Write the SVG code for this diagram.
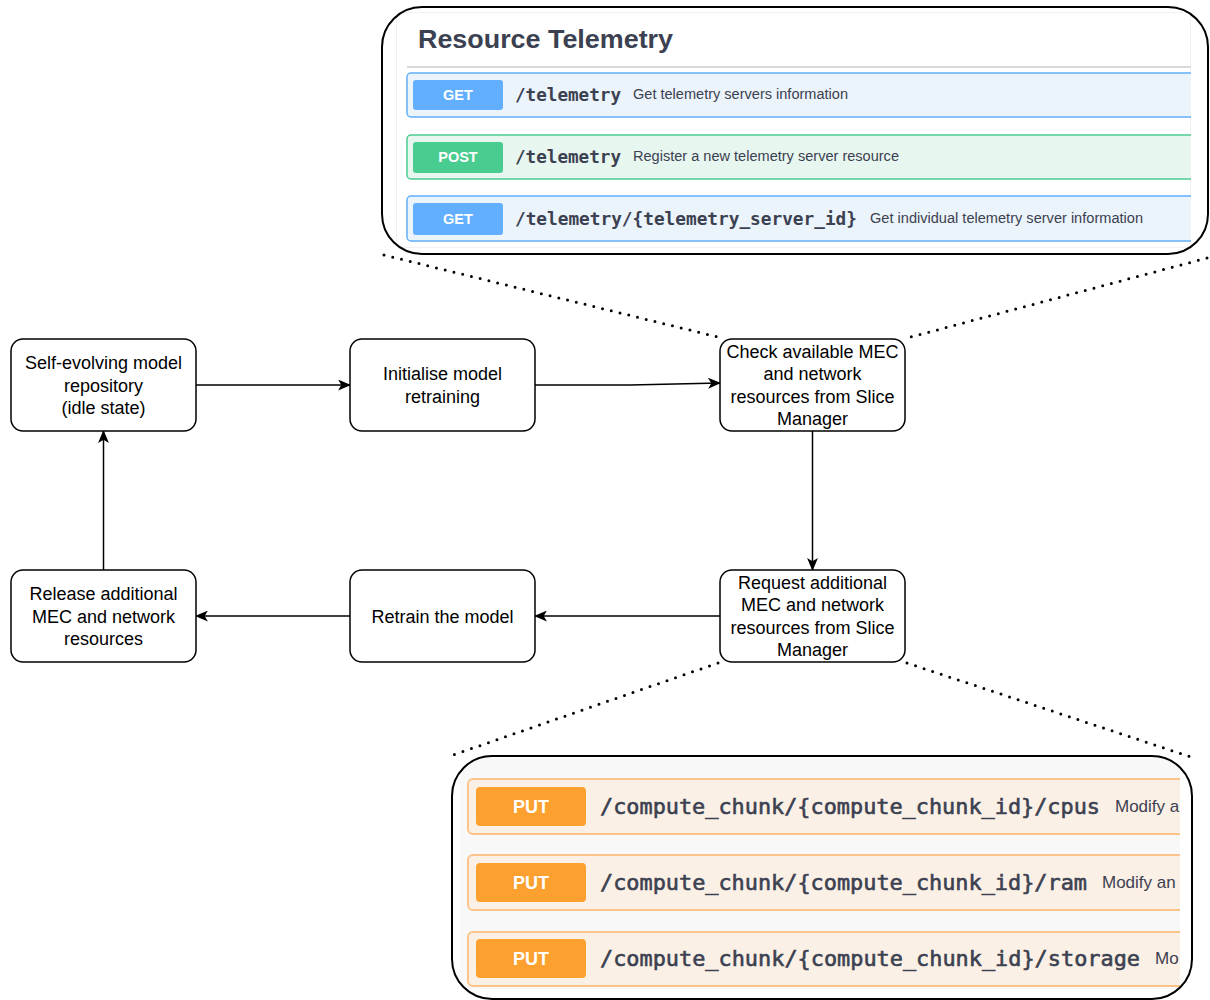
<svg xmlns="http://www.w3.org/2000/svg" width="1210" height="1000" viewBox="0 0 1210 1000">
<style>
.node rect{fill:#fff;stroke:#000;stroke-width:1.5}
.node text{font-family:"Liberation Sans",Arial,sans-serif;font-size:18px;fill:#000;text-anchor:middle}
.edge{fill:none;stroke:#000;stroke-width:1.5}
.dot{fill:none;stroke:#000;stroke-width:3;stroke-linecap:round;stroke-dasharray:0 9}
.panel{fill:none;stroke:#000;stroke-width:2}
.mth{font-family:"Liberation Sans",Arial,sans-serif;font-weight:bold;fill:#fff;text-anchor:middle}
.path{font-family:"DejaVu Sans Mono",monospace;font-weight:bold;fill:#3b4151}
.path2{font-family:"DejaVu Sans Mono",monospace;fill:#3b4151;stroke:#3b4151;stroke-width:0.6}
.desc{font-family:"Liberation Sans",Arial,sans-serif;fill:#3b4151}
</style>
<defs>
<marker id="arr" viewBox="0 0 12 10" refX="11" refY="5" markerWidth="13" markerHeight="11" markerUnits="userSpaceOnUse" orient="auto">
<path d="M0,0 L12,5 L0,10 L3,5 z" fill="#000"/>
</marker>
<clipPath id="ctopr"><rect x="382" y="7" width="826" height="247" rx="40"/></clipPath>
<clipPath id="ctop"><rect x="396" y="12" width="795" height="236"/></clipPath>
<clipPath id="cbotr"><rect x="452" y="756" width="740" height="243" rx="40"/></clipPath>
<clipPath id="cbot"><rect x="460" y="758" width="720" height="231"/></clipPath>
</defs>

<g id="telemetry-panel">
<rect x="382" y="7" width="826" height="247" rx="40" fill="#fff"/>
<g clip-path="url(#ctopr)">
<g clip-path="url(#ctop)">
<rect x="396" y="12" width="795" height="236" fill="#fff" stroke="#e4e4e4"/>
<text x="418" y="48" font-family="Liberation Sans,Arial,sans-serif" font-weight="bold" font-size="26" fill="#3b4151" textLength="255" lengthAdjust="spacingAndGlyphs">Resource Telemetry</text>
<line x1="407" y1="67" x2="1191" y2="67" stroke="#d9d9d9" stroke-width="2"/>
<rect x="407" y="73" width="800" height="44" rx="4" fill="#ebf3fb" stroke="#61affe" stroke-width="1.5"/>
<rect x="413" y="80" width="90" height="30" rx="3" fill="#61affe"/>
<text class="mth" x="458" y="100" font-size="14.5">GET</text>
<text class="path" x="515" y="101" font-size="17.7" textLength="106" lengthAdjust="spacingAndGlyphs">/telemetry</text>
<text class="desc" x="633" y="99" font-size="14" textLength="215" lengthAdjust="spacingAndGlyphs">Get telemetry servers information</text>
<rect x="407" y="135" width="800" height="44" rx="4" fill="#e8f6f0" stroke="#49cc90" stroke-width="1.5"/>
<rect x="413" y="142" width="90" height="31" rx="3" fill="#49cc90"/>
<text class="mth" x="458" y="162" font-size="14.5">POST</text>
<text class="path" x="515" y="163" font-size="17.7" textLength="106" lengthAdjust="spacingAndGlyphs">/telemetry</text>
<text class="desc" x="633" y="161" font-size="14" textLength="266" lengthAdjust="spacingAndGlyphs">Register a new telemetry server resource</text>
<rect x="407" y="196" width="800" height="45" rx="4" fill="#ebf3fb" stroke="#61affe" stroke-width="1.5"/>
<rect x="413" y="203" width="90" height="32" rx="3" fill="#61affe"/>
<text class="mth" x="458" y="224" font-size="14.5">GET</text>
<text class="path" x="515" y="225" font-size="17.7" textLength="342" lengthAdjust="spacingAndGlyphs">/telemetry/{telemetry_server_id}</text>
<text class="desc" x="870" y="223" font-size="14" textLength="273" lengthAdjust="spacingAndGlyphs">Get individual telemetry server information</text>
</g>
</g>
<rect class="panel" x="382" y="7" width="826" height="247" rx="40"/>
</g>

<g id="compute-panel">
<rect x="452" y="756" width="740" height="243" rx="40" fill="#fff"/>
<g clip-path="url(#cbotr)">
<g clip-path="url(#cbot)">
<rect x="460" y="758" width="720" height="231" fill="#f8f8f8"/>
<rect x="468" y="779" width="730" height="55" rx="5" fill="#fbf0e5" stroke="#fcc48a" stroke-width="2"/>
<rect x="476" y="787" width="110" height="39" rx="4" fill="#fca130"/>
<text class="mth" x="531" y="813" font-size="18" font-weight="normal">PUT</text>
<text class="path2" x="600" y="814" font-size="22" textLength="500" lengthAdjust="spacingAndGlyphs">/compute_chunk/{compute_chunk_id}/cpus</text>
<text class="desc" x="1115" y="812" font-size="17">Modify a</text>
<rect x="468" y="855" width="730" height="55" rx="5" fill="#fbf0e5" stroke="#fcc48a" stroke-width="2"/>
<rect x="476" y="863" width="110" height="39" rx="4" fill="#fca130"/>
<text class="mth" x="531" y="889" font-size="18" font-weight="normal">PUT</text>
<text class="path2" x="600" y="890" font-size="22" textLength="487" lengthAdjust="spacingAndGlyphs">/compute_chunk/{compute_chunk_id}/ram</text>
<text class="desc" x="1102" y="888" font-size="17">Modify an</text>
<rect x="468" y="932" width="730" height="54" rx="5" fill="#fbf0e5" stroke="#fcc48a" stroke-width="2"/>
<rect x="476" y="939" width="110" height="39" rx="4" fill="#fca130"/>
<text class="mth" x="531" y="965" font-size="18" font-weight="normal">PUT</text>
<text class="path2" x="600" y="966" font-size="22" textLength="540" lengthAdjust="spacingAndGlyphs">/compute_chunk/{compute_chunk_id}/storage</text>
<text class="desc" x="1155" y="964" font-size="17">Mo</text>
</g>
</g>
<rect class="panel" x="452" y="756" width="740" height="243" rx="40"/>
</g>

<g id="connectors">
<path class="dot" d="M384,255 L718,337"/>
<path class="dot" d="M1207,258 L907,338"/>
<path class="dot" d="M718,663 L453,755"/>
<path class="dot" d="M907,663 L1191,757"/>
<path class="edge" d="M196,385 L350,385" marker-end="url(#arr)"/>
<path class="edge" d="M535,385 L630,385 L720,383" marker-end="url(#arr)"/>
<path class="edge" d="M812.5,431 L812.5,570" marker-end="url(#arr)"/>
<path class="edge" d="M720,616 L535,616" marker-end="url(#arr)"/>
<path class="edge" d="M350,616 L196,616" marker-end="url(#arr)"/>
<path class="edge" d="M103.5,570 L103.5,431" marker-end="url(#arr)"/>
</g>

<g id="node-repo" class="node">
<rect x="11" y="339" width="185" height="92" rx="12"/>
<text x="103.5" y="369">Self-evolving model</text>
<text x="103.5" y="391.5">repository</text>
<text x="103.5" y="414">(idle state)</text>
</g>
<g id="node-init" class="node">
<rect x="350" y="339" width="185" height="92" rx="12"/>
<text x="442.5" y="380">Initialise model</text>
<text x="442.5" y="402.5">retraining</text>
</g>
<g id="node-check" class="node">
<rect x="720" y="339" width="185" height="92" rx="12"/>
<text x="812.5" y="357.5">Check available MEC</text>
<text x="812.5" y="380">and network</text>
<text x="812.5" y="402.5">resources from Slice</text>
<text x="812.5" y="425">Manager</text>
</g>
<g id="node-request" class="node">
<rect x="720" y="570" width="185" height="92" rx="12"/>
<text x="812.5" y="588.5">Request additional</text>
<text x="812.5" y="611">MEC and network</text>
<text x="812.5" y="633.5">resources from Slice</text>
<text x="812.5" y="656">Manager</text>
</g>
<g id="node-retrain" class="node">
<rect x="350" y="570" width="185" height="92" rx="12"/>
<text x="442.5" y="622.5">Retrain the model</text>
</g>
<g id="node-release" class="node">
<rect x="11" y="570" width="185" height="92" rx="12"/>
<text x="103.5" y="600">Release additional</text>
<text x="103.5" y="622.5">MEC and network</text>
<text x="103.5" y="645">resources</text>
</g>
</svg>
